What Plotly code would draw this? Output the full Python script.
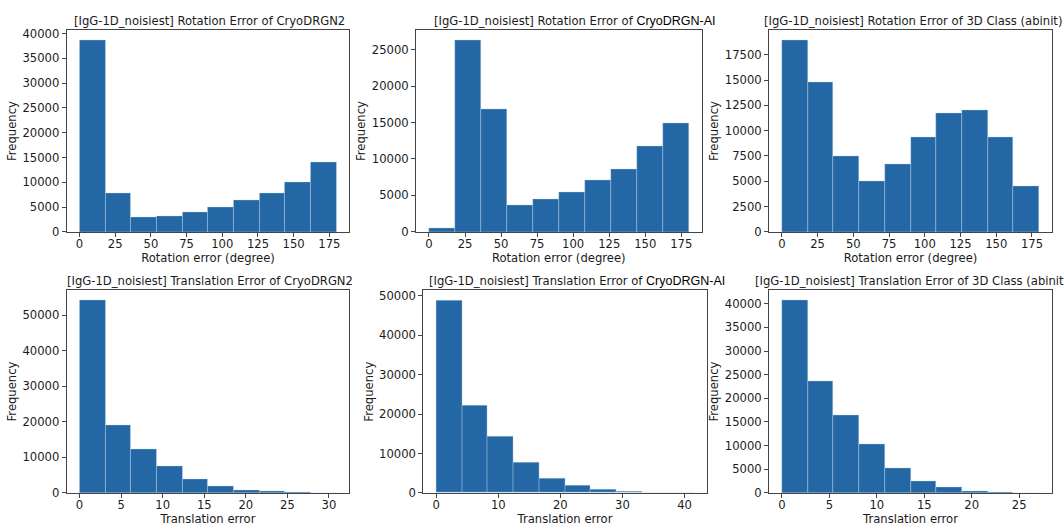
import numpy as np
import plotly.graph_objects as go

W, H = 1064, 529

# --- histogram data (10 bins per panel, counts) ---
rot_range = [0, 180]
rot_cryodrgn2 = [38750, 7900, 3000, 3150, 3880, 5000, 6380, 7900, 10000, 14150]
rot_cryodrgn_ai = [450, 26350, 16770, 3700, 4480, 5500, 7030, 8630, 11720, 14950]
rot_3dclass = [18980, 14790, 7450, 5040, 6680, 9360, 11680, 12060, 9360, 4490]

trans_range_cryodrgn2 = [0, 30.9]
trans_cryodrgn2 = [54400, 18970, 12430, 7460, 3960, 1930, 830, 370, 180, 40]
trans_range_cryodrgn_ai = [0, 41.5]
trans_cryodrgn_ai = [48900, 22060, 14430, 7630, 3730, 1910, 910, 410, 170, 40]
trans_range_3dclass = [0, 27.1]
trans_3dclass = [40830, 23560, 16510, 10220, 5180, 2420, 1170, 410, 140, 30]

prefix = "[IgG-1D_noisiest] "
# the method name is set in a different (Arial-like) face in the original titles
ai_name = ('<span style="font-family:Liberation Sans, Arial, sans-serif;'
           'font-size:12.5px;color:#000">CryoDRGN-AI</span>')

# panel: counts, range, title, xlabel, x dtick, y dtick, plot box (px), title left (px)
panels = [
    (rot_cryodrgn2, rot_range, prefix + "Rotation Error of CryoDRGN2",
     "Rotation error (degree)", 25, 5000, (66.7, 27.7, 349.3, 233.3), 71.5),
    (rot_cryodrgn_ai, rot_range, prefix + "Rotation Error of " + ai_name,
     "Rotation error (degree)", 25, 5000, (416, 27.7, 701.5, 233.3), 432),
    (rot_3dclass, rot_range, prefix + "Rotation Error of 3D Class (abinit)",
     "Rotation error (degree)", 25, 2500, (769, 27.7, 1052, 233.3), 761.5),
    (trans_cryodrgn2, trans_range_cryodrgn2, prefix + "Translation Error of CryoDRGN2",
     "Translation error", 5, 10000, (66.7, 292.7, 349.3, 499.3), 65),
    (trans_cryodrgn_ai, trans_range_cryodrgn_ai, prefix + "Translation Error of " + ai_name,
     "Translation error", 10, 10000, (423.3, 293, 706.7, 499.3), 426.5),
    (trans_3dclass, trans_range_3dclass, prefix + "Translation Error of 3D Class (abinit)",
     "Translation error", 5, 5000, (769, 292.7, 1052, 499.3), 753.3),
]

bar_color = "#2368a4"
font = dict(family="DejaVu Sans", size=11.6, color="#1a1a1a")

fig = go.Figure()
annotations = []

for i, (counts, rng, title, xlabel, xdt, ydt, box, tleft) in enumerate(panels):
    n = len(counts)
    edges = np.linspace(rng[0], rng[1], n + 1)
    centers = (edges[:-1] + edges[1:]) / 2
    width = edges[1] - edges[0]
    xa = "x" if i == 0 else f"x{i + 1}"
    ya = "y" if i == 0 else f"y{i + 1}"

    fig.add_trace(go.Bar(
        x=centers, y=counts, width=width,
        marker=dict(color=bar_color, line=dict(width=0.5, color="rgba(200,218,235,0.7)")),
        xaxis=xa, yaxis=ya, showlegend=False, hoverinfo="x+y",
    ))

    x0, y0, x1, y1 = box
    span = rng[1] - rng[0]
    axis_common = dict(
        showline=True, linecolor="#444", linewidth=1, mirror=True,
        ticks="outside", ticklen=4, tickcolor="#444", showgrid=False,
        zeroline=False, tickfont=font, title_font=font,
    )
    fig.layout[f"xaxis{'' if i == 0 else i + 1}"] = dict(
        domain=[x0 / W, x1 / W], anchor=ya,
        range=[rng[0] - 0.05 * span, rng[1] + 0.05 * span],
        dtick=xdt, tick0=0, ticklabelstandoff=-3,
        title=dict(text=xlabel, standoff=1),
        **axis_common,
    )
    fig.layout[f"yaxis{'' if i == 0 else i + 1}"] = dict(
        domain=[1 - y1 / H, 1 - y0 / H], anchor=xa,
        range=[0, max(counts) * 1.05],
        dtick=ydt, tick0=0, tickformat="d", title=dict(text="Frequency", standoff=3),
        **axis_common,
    )

    annotations.append(dict(
        text=title, x=tleft / W, y=1 - (y0 - 9.5) / H, xref="paper", yref="paper",
        xanchor="left", yanchor="middle", showarrow=False, font=font,
    ))

fig.update_layout(
    width=W, height=H,
    margin=dict(l=0, r=0, t=0, b=0),
    paper_bgcolor="white", plot_bgcolor="white",
    bargap=0, annotations=annotations, font=font,
)

# drop the default page margin so the figure sits at the window's corner
fig.write_html("out.html", config={"displayModeBar": False},
               post_script="document.body.style.margin='0';")
